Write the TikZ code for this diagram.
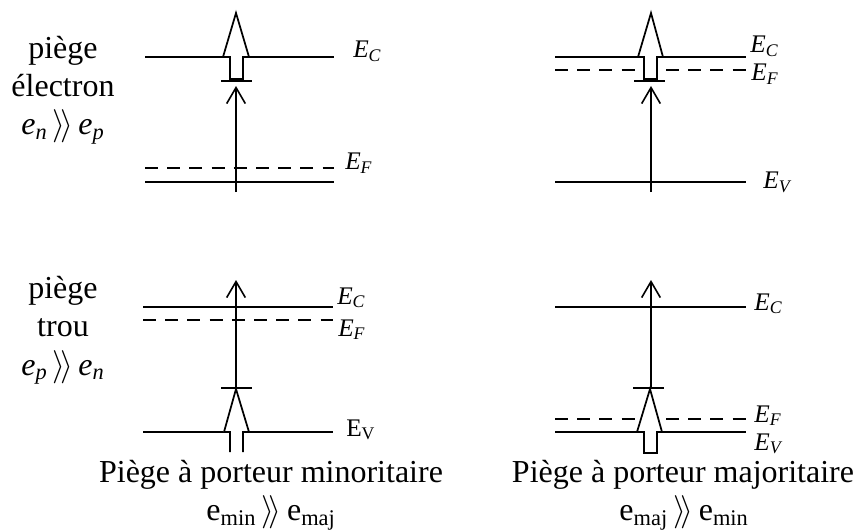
\documentclass[tikz,border=0pt]{standalone}
\usepackage{fontspec}
\setmainfont{Liberation Serif}
\usetikzlibrary{arrows.meta}
\newcommand{\Ener}[1]{\textit{E}\textsubscript{\textit{#1}}}
\newcommand{\mgg}{\,$\rangle\!\rangle$\,}
\tikzset{
  lvl/.style={draw=black,line width=1.3pt},
  lvldash/.style={draw=black,line width=1.3pt,dash pattern=on 9.75pt off 6.9pt},
  thinarrow/.style={draw=black,line width=1.2pt,-{Straight Barb[length=12pt,width=14pt,line width=1.2pt]}},
  blockarrow/.style={draw=black,line width=1.3pt,fill=white,line join=miter},
  txt/.style={inner sep=0pt,anchor=base,font=\fontsize{24}{28}\selectfont},
  en/.style={inner sep=0pt,anchor=base west,font=\fontsize{19}{22}\selectfont}
}
\begin{document}
\begin{tikzpicture}[x=0.75pt,y=-0.75pt]
\useasboundingbox (0,0) rectangle (856,531);
% panel 1
\coordinate (a1) at (145,57); \coordinate (a2) at (334,57);
\coordinate (a3) at (145,168); \coordinate (a4) at (334,168);
\coordinate (a5) at (145,182); \coordinate (a6) at (334,182);
\coordinate (a7) at (221,81); \coordinate (a8) at (252,81);
\coordinate (a9) at (236,192); \coordinate (a10) at (236,86);
\draw[lvl] (a1)--(a2); \draw[lvldash] (a3)--(a4); \draw[lvl] (a5)--(a6); \draw[lvl] (a7)--(a8);
\draw[thinarrow] (a9)--(a10);
\draw[blockarrow] (230,79)--(230,57)--(223,57)--(236,13)--(249,57)--(243,57)--(243,79)--cycle;
\node[en] (ta1) at (353,58) {\Ener{C}};
\node[en] (ta2) at (345,170) {\Ener{F}};
% panel 2
\coordinate (b1) at (143,307); \coordinate (b2) at (333,307);
\coordinate (b3) at (143,320); \coordinate (b4) at (333,320);
\coordinate (b5) at (143,432); \coordinate (b6) at (333,432);
\coordinate (b7) at (221,388); \coordinate (b8) at (252,388);
\coordinate (b9) at (236,388); \coordinate (b10) at (236,280);
\draw[lvl] (b1)--(b2); \draw[lvldash] (b3)--(b4); \draw[lvl] (b5)--(b6); \draw[lvl] (b7)--(b8);
\draw[thinarrow] (b9)--(b10);
\fill[white] (230,432)--(223,432)--(236,389)--(249,432)--(243,432)--(243,452)--(230,452)--cycle;
\draw[blockarrow,fill=none] (230,452)--(230,432)--(224,432)--(236,389)--(249,432)--(243,432)--(243,452);
\node[en] (tb1) at (337,304) {\Ener{C}};
\node[en] (tb2) at (338,336) {\Ener{F}};
\node[en] (tb3) at (346,436) {E\textsubscript{V}};
% panel 3
\coordinate (c1) at (555,57); \coordinate (c2) at (746,57);
\coordinate (c3) at (555,70); \coordinate (c4) at (746,70);
\coordinate (c5) at (555,182); \coordinate (c6) at (746,182);
\coordinate (c7) at (634,81); \coordinate (c8) at (665,81);
\coordinate (c9) at (651,192); \coordinate (c10) at (651,86);
\draw[lvl] (c1)--(c2); \draw[lvldash] (c3)--(c4); \draw[lvl] (c5)--(c6); \draw[lvl] (c7)--(c8);
\draw[thinarrow] (c9)--(c10);
\draw[blockarrow] (644,79)--(644,57)--(638,57)--(651,13)--(663,57)--(657,57)--(657,79)--cycle;
\node[en] (tc1) at (750,53) {\Ener{C}};
\node[en] (tc2) at (751,81) {\Ener{F}};
\node[en] (tc3) at (763,189) {\Ener{V}};
% panel 4
\coordinate (d1) at (555,307); \coordinate (d2) at (746,307);
\coordinate (d3) at (555,419); \coordinate (d4) at (746,419);
\coordinate (d5) at (555,432); \coordinate (d6) at (746,432);
\coordinate (d7) at (633,388); \coordinate (d8) at (664,388);
\coordinate (d9) at (651,388); \coordinate (d10) at (651,280);
\draw[lvl] (d1)--(d2); \draw[lvldash] (d3)--(d4); \draw[lvl] (d5)--(d6); \draw[lvl] (d7)--(d8);
\draw[thinarrow] (d9)--(d10);
\draw[blockarrow] (644,453)--(644,432)--(637,432)--(650,389)--(662,432)--(657,432)--(657,453)--cycle;
\node[en] (td1) at (754,310) {\Ener{C}};
\node[en] (td2) at (754,422) {\Ener{F}};
\node[en] (td3) at (754,450) {\Ener{V}};
% left labels
\node[txt] (l1) at (63,59) {piège};
\node[txt] (l2) at (63,97) {électron};
\node[txt] (l3) at (63,135) {\textit{e}\textsubscript{\textit{n}}\mgg\textit{e}\textsubscript{\textit{p}}};
\node[txt] (l4) at (63,298) {piège};
\node[txt] (l5) at (63,336) {trou};
\node[txt] (l6) at (63,375) {\textit{e}\textsubscript{\textit{p}}\mgg\textit{e}\textsubscript{\textit{n}}};
% captions
\node[txt] (m1) at (271,482.5) {Piège à porteur minoritaire};
\node[txt] (m2) at (271,520.5) {e\textsubscript{min}\mgg e\textsubscript{maj}};
\node[txt] (m3) at (683,482.5) {Piège à porteur majoritaire};
\node[txt] (m4) at (684,520.5) {e\textsubscript{maj}\mgg e\textsubscript{min}};
\end{tikzpicture}
\end{document}
